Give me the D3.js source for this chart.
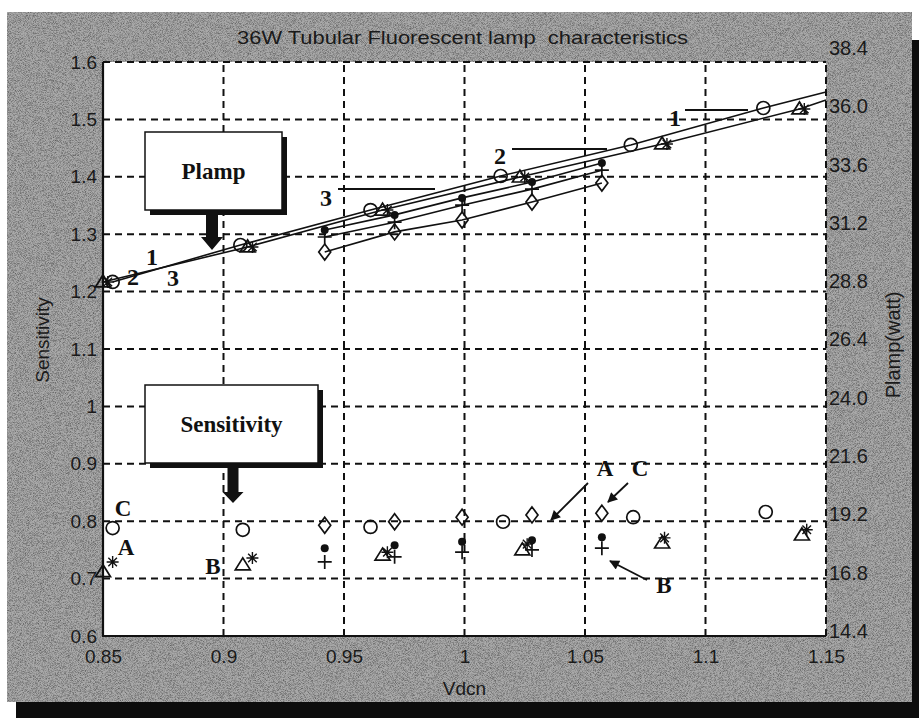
<!DOCTYPE html>
<html><head><meta charset="utf-8">
<script src="https://cdn.jsdelivr.net/npm/d3@7"></script>
<style>body{margin:0;background:#fff}svg{display:block}</style>
</head><body>
<script>
// ---------- data ----------
const titleText = "36W Tubular Fluorescent lamp  characteristics";
const xLabelText = "Vdcn";
const yLeftLabelText = "Sensitivity";
const yRightLabelText = "Plamp(watt)";

const xTickValues = [0.85, 0.9, 0.95, 1, 1.05, 1.1, 1.15];
const xTickLabels = ["0.85", "0.9", "0.95", "1", "1.05", "1.1", "1.15"];
const yLeftTicks = [0.6, 0.7, 0.8, 0.9, 1.0, 1.1, 1.2, 1.3, 1.4, 1.5, 1.6];
const yLeftLabels = ["0.6", "0.7", "0.8", "0.9", "1", "1.1", "1.2", "1.3", "1.4", "1.5", "1.6"];
const yRightTicks = [14.4, 16.8, 19.2, 21.6, 24.0, 26.4, 28.8, 31.2, 33.6, 36.0, 38.4];
const yRightLabels = ["14.4", "16.8", "19.2", "21.6", "24.0", "26.4", "28.8", "31.2", "33.6", "36.0", "38.4"];

// Plamp (watt) series - right axis
const plampCircleV = [0.854, 0.907, 0.961, 1.015, 1.069, 1.124, 1.15];
const plampCircleW = [28.77, 30.29, 31.73, 33.13, 34.41, 35.93, 36.59];
const plampTriV    = [0.850, 0.910, 0.966, 1.023, 1.082, 1.139, 1.15];
const plampTriW    = [28.77, 30.21, 31.73, 33.09, 34.45, 35.89, 36.26];
const plampGroupV  = [0.942, 0.971, 0.999, 1.028, 1.057];
const plampDotW    = [30.91, 31.53, 32.23, 32.88, 33.67];
const plampPlusW   = [30.62, 31.23, 31.93, 32.59, 33.37];
const plampDiamW   = [30.00, 30.83, 31.32, 32.06, 32.84];

// Sensitivity series - left axis
const sensCircleV = [0.854, 0.908, 0.961, 1.016, 1.070, 1.125];
const sensCircleS = [0.788, 0.785, 0.790, 0.799, 0.807, 0.816];
const sensTriV    = [0.850, 0.908, 0.966, 1.024, 1.082, 1.140];
const sensTriS    = [0.712, 0.724, 0.741, 0.750, 0.762, 0.776];
const sensStarV   = [0.854, 0.912, 0.968, 1.026, 1.083, 1.142];
const sensStarS   = [0.729, 0.736, 0.746, 0.760, 0.771, 0.785];
const sensGroupV  = [0.942, 0.971, 0.999, 1.028, 1.057];
const sensDiamS   = [0.793, 0.799, 0.807, 0.811, 0.814];
const sensDotS    = [0.753, 0.758, 0.764, 0.767, 0.772];
const sensPlusS   = [0.729, 0.738, 0.746, 0.750, 0.753];

const boxLabels = ["Plamp", "Sensitivity"];
const curveLabels = ["1", "2", "3"];
const pointLabels = ["A", "B", "C"];

// ---------- layout ----------
const W = 919, H = 718;
const x  = d3.scaleLinear().domain([0.85, 1.15]).range([103, 826]);
const yL = d3.scaleLinear().domain([0.6, 1.6]).range([636, 62]);
const yR = d3.scaleLinear().domain([14.4, 38.4]).range([631, 48]);

const svg = d3.select("body").append("svg").attr("width", W).attr("height", H);
const defs = svg.append("defs");
const f = defs.append("filter").attr("id", "noise").attr("x", 0).attr("y", 0).attr("width", "100%").attr("height", "100%");
f.append("feTurbulence").attr("type", "fractalNoise").attr("baseFrequency", 1.4).attr("numOctaves", 1).attr("seed", 7).attr("result", "t");
f.append("feColorMatrix").attr("in", "t").attr("type", "matrix")
  .attr("values", "0 0 0 0 0  0 0 0 0 0  0 0 0 0 0  1.1 0 0 0 -0.45");
defs.append("marker").attr("id", "ah").attr("viewBox", "0 0 10 10").attr("refX", 9).attr("refY", 5)
  .attr("markerWidth", 14).attr("markerHeight", 10).attr("markerUnits", "userSpaceOnUse").attr("orient", "auto")
  .append("path").attr("d", "M0,0 L10,5 L0,10 Z").attr("fill", "#111");

// frame, shadow, grey panel
svg.append("rect").attr("width", W).attr("height", H).attr("fill", "#fff");
svg.append("rect").attr("x", 16).attr("y", 40).attr("width", W - 16).attr("height", H - 40).attr("fill", "#0c0c0c");
svg.append("rect").attr("x", 7).attr("y", 12).attr("width", 905).attr("height", 690).attr("fill", "#a9a9a9");
svg.append("rect").attr("x", 7).attr("y", 12).attr("width", 905).attr("height", 690).attr("fill", "#000").attr("filter", "url(#noise)");

// plot area
svg.append("rect").attr("x", x(0.85)).attr("y", yL(1.6)).attr("width", x(1.15) - x(0.85)).attr("height", yL(0.6) - yL(1.6)).attr("fill", "#fff");

const grid = svg.append("g").attr("stroke", "#111").attr("stroke-width", 2).attr("stroke-dasharray", "7,5");
grid.selectAll(".gx").data(xTickValues.slice(1)).join("line")
  .attr("x1", d => x(d)).attr("x2", d => x(d)).attr("y1", yL(0.6)).attr("y2", yL(1.6));
grid.selectAll(".gy").data(yLeftTicks.slice(1)).join("line")
  .attr("y1", d => yL(d)).attr("y2", d => yL(d)).attr("x1", x(0.85)).attr("x2", x(1.15));
svg.append("path").attr("d", `M${x(0.85)},${yL(1.6)} V${yL(0.6)} H${x(1.15)}`).attr("fill", "none").attr("stroke", "#111").attr("stroke-width", 2.2);

// axes (labels only)
const tickFont = "'Liberation Sans', Arial, sans-serif";
const axL = svg.append("g").attr("transform", `translate(${x(0.85)},0)`)
  .call(d3.axisLeft(yL).tickValues(yLeftTicks).tickFormat((d, i) => yLeftLabels[i]).tickSize(0).tickPadding(6));
const axR = svg.append("g").attr("transform", `translate(${x(1.15)},0)`)
  .call(d3.axisRight(yR).tickValues(yRightTicks).tickFormat((d, i) => yRightLabels[i]).tickSize(0).tickPadding(3));
const axB = svg.append("g").attr("transform", `translate(0,${yL(0.6)})`)
  .call(d3.axisBottom(x).tickValues(xTickValues).tickFormat((d, i) => xTickLabels[i]).tickSize(0).tickPadding(14));
[axL, axR, axB].forEach(a => {
  a.select(".domain").remove();
  a.selectAll("text").attr("font-family", tickFont).attr("font-size", 19).attr("fill", "#1a1a1a");
});
axR.selectAll("text").attr("font-size", 20);

svg.append("text").attr("x", 237).attr("y", 44).text(titleText).style("white-space", "pre")
  .attr("font-family", tickFont).attr("font-size", 18.5).attr("fill", "#1a1a1a")
  .attr("textLength", 451).attr("lengthAdjust", "spacingAndGlyphs");
svg.append("text").attr("x", (x(0.85) + x(1.15)) / 2).attr("y", 695).attr("text-anchor", "middle").text(xLabelText)
  .attr("font-family", tickFont).attr("font-size", 19).attr("fill", "#1a1a1a");
svg.append("text").attr("transform", "translate(49,340) rotate(-90)").attr("text-anchor", "middle").text(yLeftLabelText)
  .attr("font-family", tickFont).attr("font-size", 19).attr("fill", "#1a1a1a");
svg.append("text").attr("transform", "translate(900,345) rotate(-90)").attr("text-anchor", "middle").text(yRightLabelText)
  .attr("font-family", tickFont).attr("font-size", 20).attr("fill", "#1a1a1a");

// ---------- marker helpers ----------
const sym = {
  circle: "M6.5,0 A6.5,6.5 0 1,1 -6.5,0 A6.5,6.5 0 1,1 6.5,0 Z",
  diamond: "M0,-8 L6,0 L0,8 L-6,0 Z",
  tri: "M-7.5,5 L7.5,5 L0,-7 Z",
  star: "M-6,0 H6 M0,-6 V6 M-4.3,-4.3 L4.3,4.3 M-4.3,4.3 L4.3,-4.3",
  plus: "M-7,0 H7 M0,-7 V7"
};
function drawLine(vs, ys, yScale) {
  const pts = vs.map((v, i) => [x(v), yScale(ys[i])]);
  svg.append("path").attr("d", d3.line()(pts)).attr("fill", "none").attr("stroke", "#111").attr("stroke-width", 1.6);
}
function drawMarks(vs, ys, yScale, kind) {
  const g = svg.append("g");
  g.selectAll("x").data(vs.map((v, i) => [v, ys[i]])).join(kind === "dot" ? "circle" : "path")
    .each(function (d) {
      const s = d3.select(this);
      if (kind === "dot") {
        s.attr("cx", x(d[0])).attr("cy", yScale(d[1])).attr("r", 4).attr("fill", "#111");
      } else {
        s.attr("d", sym[kind]).attr("transform", `translate(${x(d[0])},${yScale(d[1])})`)
          .attr("fill", "none").attr("stroke", "#111").attr("stroke-width", kind === "star" ? 1.4 : 1.7);
      }
    });
}

// ---------- Plamp curves ----------
drawLine(plampCircleV, plampCircleW, yR);
drawLine(plampTriV, plampTriW, yR);
drawLine(plampGroupV, plampDotW, yR);
drawLine(plampGroupV, plampPlusW, yR);
drawLine(plampGroupV, plampDiamW, yR);
drawMarks(plampCircleV.slice(0, -1), plampCircleW, yR, "circle");
drawMarks(plampTriV.slice(0, -1), plampTriW, yR, "tri");
drawMarks(plampTriV.slice(0, -1).map(v => v + 0.002), plampTriW, yR, "star");
drawMarks(plampGroupV, plampDiamW, yR, "diamond");
drawMarks(plampGroupV, plampPlusW, yR, "plus");
drawMarks(plampGroupV, plampDotW, yR, "dot");

// ---------- Sensitivity markers ----------
drawMarks(sensCircleV, sensCircleS, yL, "circle");
drawMarks(sensTriV, sensTriS, yL, "tri");
drawMarks(sensStarV, sensStarS, yL, "star");
drawMarks(sensGroupV, sensDiamS, yL, "diamond");
drawMarks(sensGroupV, sensPlusS, yL, "plus");
drawMarks(sensGroupV, sensDotS, yL, "dot");

// ---------- annotations ----------
const serif = "'Liberation Serif', 'Times New Roman', serif";
function box(x0, y0, w, h, label) {
  svg.append("rect").attr("x", x0 + 5).attr("y", y0 + 5).attr("width", w).attr("height", h).attr("fill", "#111");
  svg.append("rect").attr("x", x0).attr("y", y0).attr("width", w).attr("height", h).attr("fill", "#fff").attr("stroke", "#111").attr("stroke-width", 1.5);
  svg.append("text").attr("x", x0 + w / 2).attr("y", y0 + h / 2 + 8).attr("text-anchor", "middle").text(label)
    .attr("font-family", serif).attr("font-weight", "bold").attr("font-size", 23).attr("fill", "#111");
}
function bigArrow(cx, y0, y1, sw, hw, hl) {
  svg.append("path").attr("fill", "#111")
    .attr("d", `M${cx - sw / 2},${y0} V${y1 - hl} H${cx - hw / 2} L${cx},${y1} L${cx + hw / 2},${y1 - hl} H${cx + sw / 2} V${y0} Z`);
}
box(145, 132, 137, 78, boxLabels[0]);
bigArrow(212, 214, 250, 12, 22, 13);
box(145, 385, 173, 78, boxLabels[1]);
bigArrow(233, 467, 503, 11, 21, 11);

function lbl(t, px, py, size) {
  svg.append("text").attr("x", px).attr("y", py).attr("text-anchor", "middle").text(t)
    .attr("font-family", serif).attr("font-weight", "bold").attr("font-size", size || 24).attr("fill", "#111");
}
function seg(x1, y1, x2, y2, arrow) {
  const l = svg.append("line").attr("x1", x1).attr("y1", y1).attr("x2", x2).attr("y2", y2).attr("stroke", "#111").attr("stroke-width", 1.8);
  if (arrow) l.attr("marker-end", "url(#ah)");
}
// curve numbers
lbl(curveLabels[0], 675, 126); seg(685, 110, 748, 110);
lbl(curveLabels[1], 500, 164); seg(512, 149, 607, 149);
lbl(curveLabels[2], 326, 206); seg(338, 189, 435, 189);
lbl(curveLabels[0], 152, 265);
lbl(curveLabels[1], 133, 285);
lbl(curveLabels[2], 173, 286);
// point letters
lbl(pointLabels[2], 123, 516, 23);
lbl(pointLabels[0], 126, 555, 23);
lbl(pointLabels[1], 213, 574, 23);
lbl(pointLabels[0], 605, 476, 23);
lbl(pointLabels[2], 640, 476, 23);
lbl(pointLabels[1], 664, 593, 23);
seg(588, 483, 551, 520, true);
seg(628, 483, 608, 502, true);
seg(647, 580, 610, 561, true);
</script>
</body></html>
